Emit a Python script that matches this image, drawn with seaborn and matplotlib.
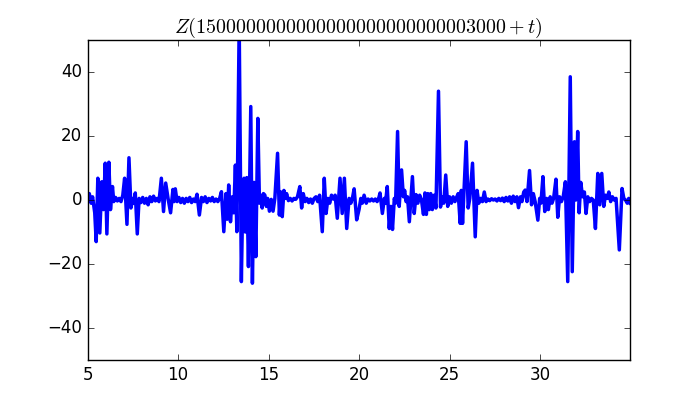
import numpy as np
import pandas as pd
import matplotlib
matplotlib.use('Agg')
import matplotlib.pyplot as plt
import seaborn as sns

# Values (t, Z)
t_vals = [5.00, 5.10, 5.20, 5.28, 5.40, 5.48, 5.57, 5.68, 5.79, 5.88, 5.98, 6.07, 6.18, 6.27,
          6.38, 6.45, 6.55, 6.65, 6.75, 6.85, 6.95, 7.05, 7.18, 7.29, 7.40, 7.50, 7.58, 7.64,
          7.75, 7.85, 7.95, 8.05, 8.15, 8.25, 8.35, 8.45, 8.55, 8.65, 8.75, 8.85, 8.95, 9.08,
          9.20, 9.32, 9.45, 9.59, 9.72, 9.78, 9.85, 9.95, 10.05, 10.15, 10.25, 10.35, 10.45,
          10.55, 10.65, 10.75, 10.85, 10.95, 11.05, 11.18, 11.30, 11.40, 11.50, 11.60, 11.70,
          11.80, 11.90, 12.00, 12.10, 12.20, 12.30, 12.40, 12.53, 12.65, 12.72, 12.80, 12.90,
          13.00, 13.08, 13.17, 13.25, 13.38, 13.50, 13.58, 13.65, 13.72, 13.80, 13.89, 14.02,
          14.11, 14.20, 14.30, 14.41, 14.50, 14.58, 14.65, 14.72, 14.80, 14.88, 14.95, 15.05,
          15.15, 15.25, 15.35, 15.50, 15.60, 15.68, 15.76, 15.85, 15.93, 16.00, 16.10, 16.20,
          16.30, 16.40, 16.50, 16.60, 16.73, 16.83, 16.92, 17.02, 17.12, 17.22, 17.32, 17.42,
          17.52, 17.62, 17.72, 17.82, 17.97, 18.08, 18.18, 18.28, 18.38, 18.48, 18.58, 18.68,
          18.80, 18.95, 19.07, 19.19, 19.32, 19.45, 19.55, 19.65, 19.73, 19.87, 20.00, 20.10,
          20.18, 20.28, 20.40, 20.50, 20.60, 20.70, 20.80, 20.90, 21.00, 21.10, 21.16, 21.29,
          21.40, 21.46, 21.56, 21.67, 21.76, 21.85, 21.95, 22.02, 22.13, 22.22, 22.35, 22.45,
          22.52, 22.60, 22.68, 22.78, 22.95, 23.05, 23.15, 23.25, 23.35, 23.45, 23.56, 23.64,
          23.72, 23.80, 23.88, 23.96, 24.05, 24.15, 24.25, 24.39, 24.50, 24.60, 24.68, 24.79,
          24.90, 25.00, 25.10, 25.20, 25.30, 25.40, 25.48, 25.59, 25.65, 25.72, 25.92, 26.03,
          26.12, 26.27, 26.42, 26.52, 26.62, 26.72, 26.82, 26.92, 27.02, 27.12, 27.22, 27.32,
          27.42, 27.52, 27.62, 27.72, 27.82, 27.92, 28.02, 28.12, 28.22, 28.32, 28.42, 28.52,
          28.62, 28.72, 28.81, 28.92, 29.00, 29.10, 29.18, 29.28, 29.42, 29.53, 29.63, 29.73,
          29.88, 29.98, 30.05, 30.16, 30.26, 30.36, 30.46, 30.56, 30.66, 30.75, 30.88, 30.98,
          31.08, 31.18, 31.28, 31.40, 31.53, 31.67, 31.78, 31.90, 31.98, 32.08, 32.16, 32.25,
          32.35, 32.45, 32.54, 32.64, 32.74, 32.84, 32.94, 33.06, 33.19, 33.30, 33.41, 33.52,
          33.62, 33.72, 33.80, 33.90, 34.00, 34.10, 34.20, 34.38, 34.53, 34.63, 34.72, 34.82,
          34.90, 34.98]

z_vals = [0.5, 2.0, -1.0, 1.0, -4.0, -13.0, 6.8, -10.3, 5.7, -3.0, 11.5, -10.6, 11.8, -3.0,
          4.2, -0.5, 0.8, -0.3, 0.5, -0.5, 1.5, 6.8, -7.6, 13.2, -2.5, 0.5, -1.0, 2.2,
          -10.6, 0.5, -0.8, 0.8, -1.0, 0.5, -1.5, 1.0, -0.5, 1.2, -0.3, 0.5, -0.5, 6.8,
          -3.6, 5.3, 0.5, -4.0, 3.3, -0.5, 3.5, -0.5, 0.8, -0.8, 0.5, -1.0, 0.5,
          -0.5, 0.8, -0.8, 0.3, -0.5, 1.8, -4.7, 0.8, -0.5, 1.0, -0.8, 0.5,
          -0.3, 0.8, -0.5, 0.3, -0.5, 0.5, 2.6, -9.9, 2.0, -6.0, 4.7, -6.8,
          1.0, -4.0, 10.9, -9.9, 55.0, -25.5, 2.0, 6.8, -10.0, 7.0, -20.8, 29.2,
          -26.0, 5.5, -17.7, 25.5, -1.0, 1.5, -2.5, 2.0, 1.5, -2.0, 0.5, -3.5,
          0.2, -3.5, 0.5, 14.6, -4.7, 2.5, -5.2, 3.0, 0.5, 2.0, -0.2, 0.5,
          -0.3, 0.5, 0.2, 1.0, 4.2, -2.5, 2.0, -0.5, 0.5, -0.8, 0.3, -1.0,
          0.5, 1.0, -0.5, 1.5, -9.9, 6.8, -4.2, 0.5, -1.0, 1.5, 0.3, 1.5,
          -5.7, 6.8, -4.2, 6.8, -8.9, 0.5, -1.0, 1.0, 3.5, -6.2, -3.0, 0.5,
          -1.0, 1.5, -1.0, 0.3, -0.3, 0.3, -0.3, 0.3, -0.5, 0.8, 2.2, -4.2,
          0.5, -1.0, 4.2, -8.9, -2.0, -9.2, 0.5, -1.0, 21.4, -2.0, 9.4, 1.0,
          3.0, -0.5, 1.0, -6.8, 7.3, -4.2, 1.7, -1.0, 1.5, 0.0, -4.5, 2.2,
          -4.5, 2.0, -3.0, 2.0, -3.0, 1.5, -2.5, 34.0, -2.2, 1.0, -1.0, 7.8,
          -2.0, 1.0, -1.0, 1.0, -0.5, 1.0, 2.0, -7.3, 3.0, -7.3, 18.2, -2.5,
          0.5, 11.5, -11.5, 3.0, -1.0, 0.5, -0.5, 2.5, -0.5, 0.3, -0.2, 0.4,
          0.0, 0.3, -0.3, 0.5, -0.2, 0.6, -0.5, 0.8, -0.3, 1.0, -1.0, 1.2,
          -0.5, 1.0, -2.4, 1.0, -0.5, 2.5, 3.1, -0.5, 9.2, -1.5, 2.0, -0.5,
          -6.3, 0.5, -1.0, 7.3, -3.6, 0.5, -3.0, 1.0, -1.0, 0.5, 6.5, -5.4,
          1.0, -0.5, 1.0, 5.7, -25.5, 38.5, -22.4, 18.2, 0.0, 21.4, -4.0, 5.5,
          1.0, 2.5, -4.2, 1.0, -0.5, 0.5, 0.0, -8.9, 8.3, -1.5, 8.3, -2.0,
          1.5, 0.5, 2.5, -0.5, 1.0, 0.0, 0.5, -15.6, 3.6, 0.5, 0.0, -1.0,
          0.5, -1.0]

x_ticks = [5, 10, 15, 20, 25, 30]
y_ticks = [-40, -20, 0, 20, 40]
shift = '15' + '0' * 25 + '3000'
title = r'$Z(' + shift + r'+t)$'

df = pd.DataFrame({'t': t_vals, 'Z': z_vals})

plt.style.use('classic')
fig, ax = plt.subplots(figsize=(7, 4), dpi=100)

sns.lineplot(data=df, x='t', y='Z', color='blue', linewidth=2.5, ax=ax)

ax.set_xlim(5, 34.97)
ax.set_ylim(-50, 50)
ax.set_xticks(x_ticks)
ax.set_yticks(y_ticks)
ax.set_xlabel('')
ax.set_ylabel('')
ax.set_title(title)

fig.savefig('out.png', dpi=100)
